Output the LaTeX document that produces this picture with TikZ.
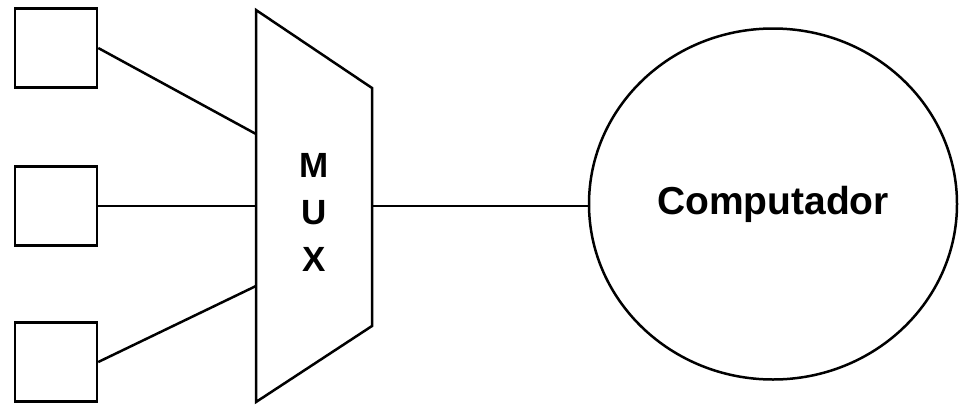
\documentclass[tikz,border=0pt]{standalone}
\usepackage{fontspec}
\setmainfont{Liberation Sans}
\usepackage{tikz}
\usetikzlibrary{shapes.geometric}

\tikzset{
  srcbox/.style={draw,line width=2.5pt,minimum width=82pt,minimum height=79pt,inner sep=0pt},
  wire/.style={line width=2.5pt},
  bigtext/.style={font=\bfseries\fontsize{#1}{47}\selectfont},
}

\begin{document}
\begin{tikzpicture}[x=1pt,y=-1pt]
  \useasboundingbox (0,0) rectangle (961,405);
  % three input sources
  \foreach \i/\y in {1/48,2/206,3/362} {
    \node[srcbox] (src\i) at (56,\y) {};
  }
  % multiplexer body
  \draw[wire,line join=miter] (256,10) -- (372,88) -- (372,326) -- (256,402) -- cycle;
  \coordinate (mux-in1) at (256,134);
  \coordinate (mux-in2) at (256,206);
  \coordinate (mux-in3) at (256,286);
  \coordinate (mux-out) at (372,206);
  \node[bigtext=35,align=center,inner sep=0pt] (mux) at (314,212) {M\\U\\X};
  % computer
  \node[ellipse,draw,line width=2.5pt,minimum width=368pt,minimum height=351pt,
        inner sep=0pt,bigtext=39] (comp) at (773,204) {Computador};
  \foreach \i in {1,2,3} {
    \draw[wire] (src\i.east) -- (mux-in\i);
  }
  \draw[wire] (mux-out) -- (mux-out -| comp.west);
\end{tikzpicture}
\end{document}
